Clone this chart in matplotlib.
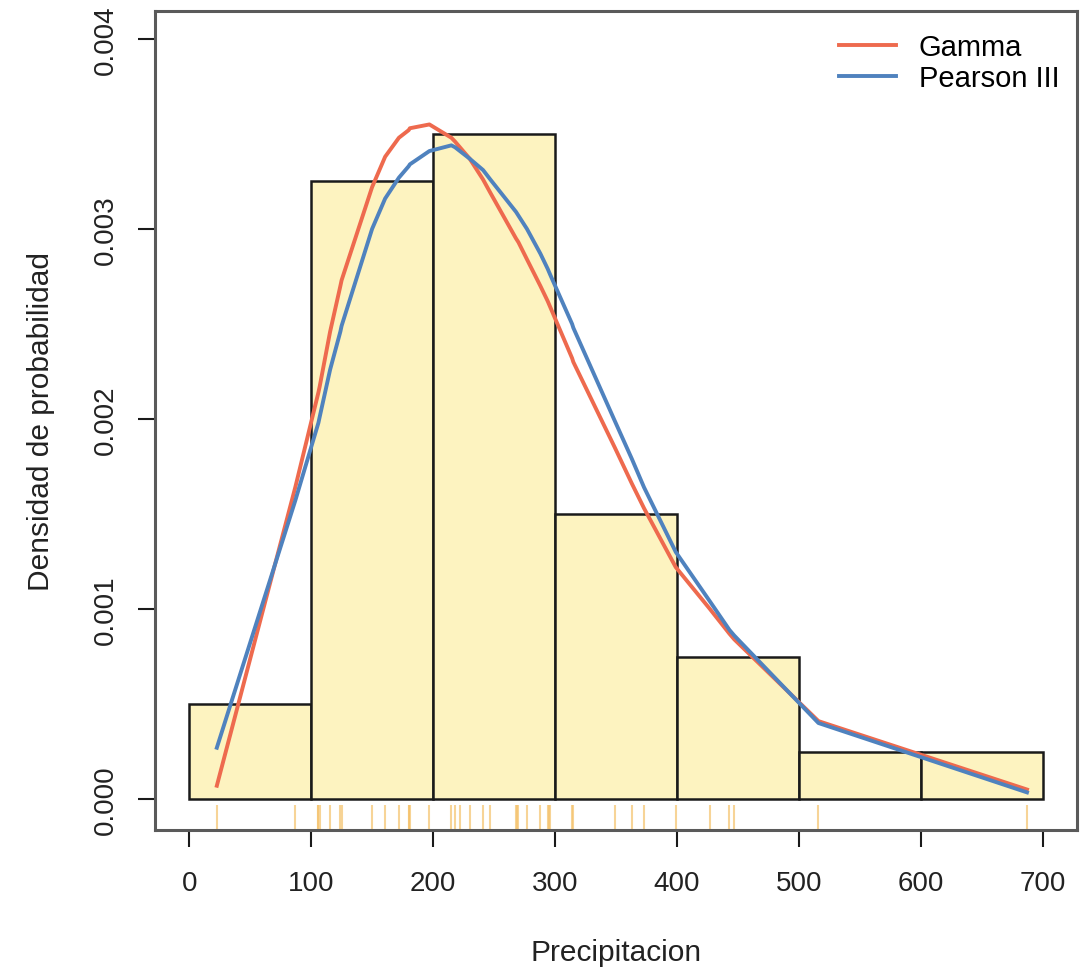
import numpy as np
import matplotlib

matplotlib.use("Agg")
import matplotlib.pyplot as plt
import matplotlib.transforms as mtransforms

plt.rcParams["font.family"] = ["Liberation Sans", "DejaVu Sans"]

precip = [
    22.7, 87,
    106, 106, 107, 115.6, 124, 125, 150, 160.7, 172, 180, 180, 181, 197,
    215, 218, 222, 230, 241, 247, 268, 269, 270, 277, 288, 294, 295, 296,
    314, 315, 349, 363, 373, 399,
    427, 443, 447,
    516,
    687,
]
bins = [0, 100, 200, 300, 400, 500, 600, 700]

# fitted densities evaluated at the sorted data points
curve_x = [22.7, 87, 106, 107, 115.6, 124, 125, 150, 160.7, 172, 180, 181, 197,
           215, 218, 222, 230, 241, 247, 268, 270, 277, 288, 294, 296,
           314, 315, 349, 363, 373, 399, 427, 443, 447, 516, 687]
gamma_y = [0.00007, 0.00164, 0.00214, 0.00217, 0.00246, 0.00270, 0.00273, 0.00322,
           0.00338, 0.00348, 0.00352, 0.00353, 0.00355,
           0.00348, 0.00346, 0.00343, 0.00337, 0.00326, 0.00319, 0.00295, 0.00293,
           0.00284, 0.00270, 0.00262, 0.00259,
           0.00232, 0.00230, 0.00185, 0.00166, 0.00153, 0.00122, 0.00100, 0.00087,
           0.00084, 0.00041, 0.00005]
pearson_y = [0.00027, 0.00157, 0.00198, 0.00201, 0.00226, 0.00246, 0.00249, 0.00300,
             0.00316, 0.00327, 0.00333, 0.00334, 0.00341,
             0.00344, 0.00343, 0.00341, 0.00337, 0.00331, 0.00326, 0.00309, 0.00307,
             0.00300, 0.00287, 0.00279, 0.00276,
             0.00250, 0.00248, 0.00199, 0.00179, 0.00164, 0.00130, 0.00104, 0.00089,
             0.00086, 0.00040, 0.000035]

y_ticks = [0.000, 0.001, 0.002, 0.003, 0.004]
x_ticks = [0, 100, 200, 300, 400, 500, 600, 700]

fig = plt.figure(figsize=(10.92, 9.70), dpi=100)
ax = fig.add_axes([155 / 1092, 1 - 831 / 970, 922 / 1092, 819 / 970])

ax.hist(precip, bins=bins, density=True, color="#FDF3C0", edgecolor="#1a1a1a",
        linewidth=1.8)

# rug
trans = mtransforms.blended_transform_factory(ax.transData, ax.transAxes)
ax.vlines(precip, 0, 0.03, transform=trans, color="#F5C26B", alpha=0.7, linewidth=1.5)

ax.plot(curve_x, gamma_y, color="#EE6A4E", linewidth=2.8, label="Gamma",
        solid_joinstyle="round")
ax.plot(curve_x, pearson_y, color="#4F82BE", linewidth=2.8, label="Pearson III",
        solid_joinstyle="round")

ax.set_xlim(-28, 728)
ax.set_ylim(-0.000163, 0.004147)
ax.set_xticks(x_ticks)
ax.set_xticklabels([str(v) for v in x_ticks])
ax.set_yticks(y_ticks)
ax.set_yticklabels([f"{v:.3f}" for v in y_ticks], rotation=90, va="center")
ax.tick_params(axis="both", length=12, width=1.5, colors="#1a1a1a",
               labelsize=20, labelcolor="#222222")
ax.tick_params(axis="x", pad=17)
ax.tick_params(axis="y", pad=14)
for s in ax.spines.values():
    s.set_color("#5a5a5a")
    s.set_linewidth(2.2)

ax.set_xlabel("Precipitacion", fontsize=21.5, color="#222222", labelpad=30)
ax.set_ylabel("Densidad de probabilidad", fontsize=21.5, color="#222222", labelpad=27)

ax.legend(loc="upper right", bbox_to_anchor=(1.0, 0.994), frameon=False, fontsize=21,
          handlelength=1.95, handletextpad=0.79, labelspacing=0.08, borderaxespad=0.2)

fig.savefig("out.png", dpi=100)
